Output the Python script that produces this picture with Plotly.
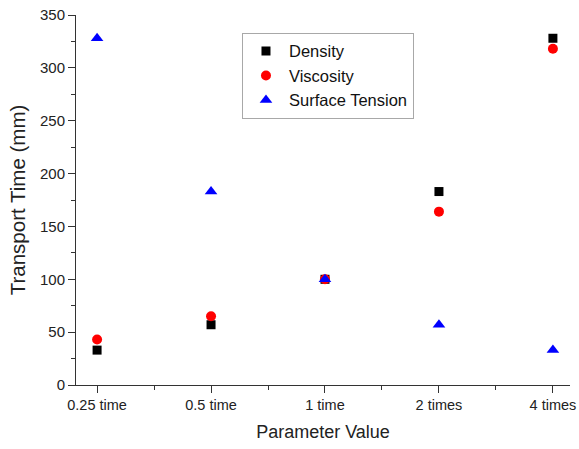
import plotly.graph_objects as go

categories = ["0.25 time", "0.5 time", "1 time", "2 times", "4 times"]
density = [33, 57, 100, 183, 328]
viscosity = [43, 65, 100, 164, 318]
surface_tension = [328, 183, 100, 57, 33]

x_pos = list(range(len(categories)))
font_family = "Liberation Sans, Arial, sans-serif"
axis_color = "#333333"

fig = go.Figure()
fig.add_trace(go.Scatter(x=x_pos, y=density, mode="markers", name="Density",
                         marker=dict(symbol="square", size=9, color="black")))
fig.add_trace(go.Scatter(x=x_pos, y=viscosity, mode="markers", name="Viscosity",
                         marker=dict(symbol="circle", size=10, color="red")))
fig.add_trace(go.Scatter(x=x_pos, y=surface_tension, mode="markers", name="Surface Tension",
                         marker=dict(symbol="triangle-up", size=11, color="blue")))

fig.update_layout(
    width=579, height=449,
    margin=dict(l=76, r=9, t=15, b=64),
    paper_bgcolor="white", plot_bgcolor="white",
    font=dict(family=font_family, color="#222222", size=14),
    showlegend=True,
    legend=dict(x=0.336, y=0.952, xanchor="left", yanchor="top",
                bordercolor="#a8a8a8", borderwidth=1, bgcolor="white",
                font=dict(size=16.5, color="#111111"), itemwidth=36,
                tracegroupgap=0),
    xaxis=dict(
        range=[-0.185, 4.15], tickmode="array", tickvals=x_pos, ticktext=categories,
        showline=True, linecolor=axis_color, linewidth=1, showgrid=False, zeroline=False,
        ticks="outside", ticklen=7, tickcolor=axis_color, automargin=False,
        minor=dict(tickmode="linear", dtick=0.5, tick0=0, ticks="outside", ticklen=4, tickcolor=axis_color),
        title=dict(text="Parameter Value", font=dict(size=18), standoff=12),
        tickfont=dict(size=14.5),
    ),
    yaxis=dict(
        range=[0, 350], tickmode="linear", dtick=50, tick0=0,
        showline=True, linecolor=axis_color, linewidth=1, showgrid=False, zeroline=False,
        ticks="outside", ticklen=7, tickcolor=axis_color, automargin=False,
        minor=dict(tickmode="linear", dtick=25, ticks="outside", ticklen=4, tickcolor=axis_color),
        title=dict(text="Transport Time (mm)", font=dict(size=20.5), standoff=8),
        tickfont=dict(size=15),
    ),
)

fig.write_html("out.html")
